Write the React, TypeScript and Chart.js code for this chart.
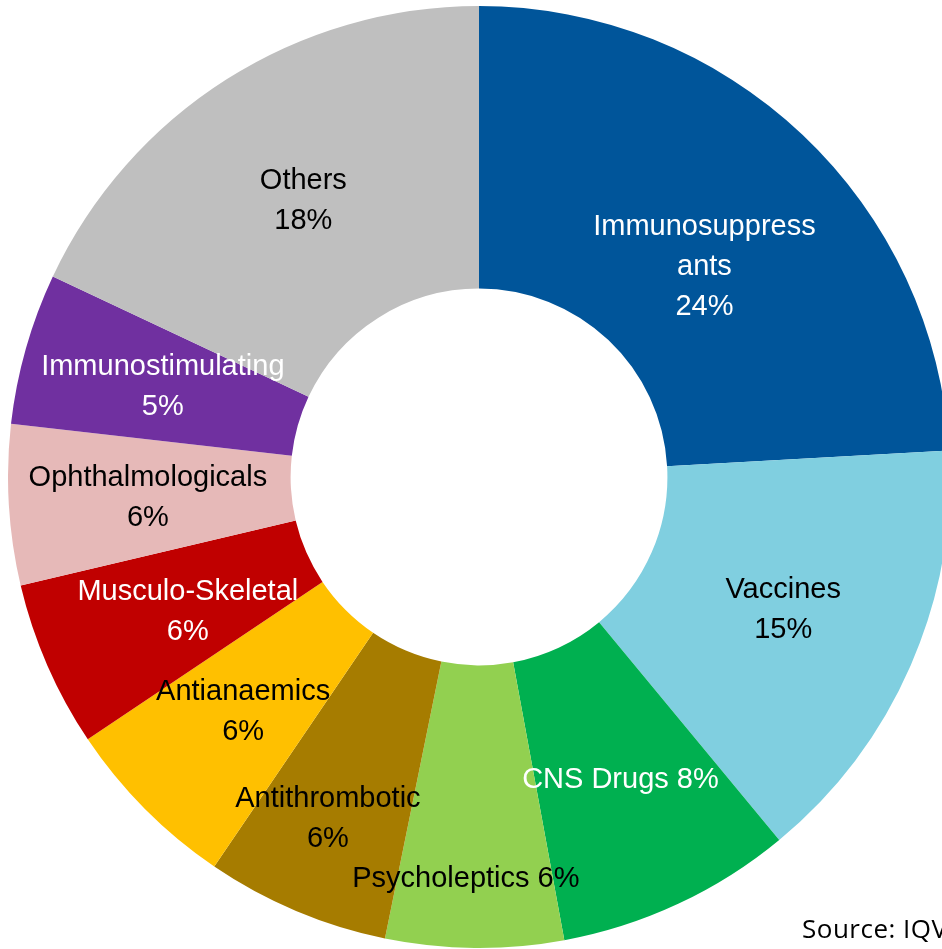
import React, { useEffect, useRef } from "react";
import { Chart, registerables } from "chart.js";

Chart.register(...registerables);

const categories = [
  "Immunosuppressants",
  "Vaccines",
  "CNS Drugs",
  "Psycholeptics",
  "Antithrombotic",
  "Antianaemics",
  "Musculo-Skeletal",
  "Ophthalmologicals",
  "Immunostimulating",
  "Others",
];
const shares = [24.1, 14.9, 8.1, 6.1, 6.3, 6.1, 5.7, 5.5, 5.2, 18.0];
const percentLabels = ["24%", "15%", "8%", "6%", "6%", "6%", "6%", "6%", "5%", "18%"];
const labelLines = [
  ["Immunosuppress", "ants", percentLabels[0]],
  ["Vaccines", percentLabels[1]],
  ["CNS Drugs " + percentLabels[2]],
  ["Psycholeptics " + percentLabels[3]],
  ["Antithrombotic", percentLabels[4]],
  ["Antianaemics", percentLabels[5]],
  ["Musculo-Skeletal", percentLabels[6]],
  ["Ophthalmologicals", percentLabels[7]],
  ["Immunostimulating", percentLabels[8]],
  ["Others", percentLabels[9]],
];
const colors = [
  "#00559A",
  "#80CFE0",
  "#00B050",
  "#92D050",
  "#A67C00",
  "#FFC000",
  "#C00000",
  "#E6B9B8",
  "#7030A0",
  "#BFBFBF",
];
const textColors = [
  "#FFFFFF",
  "#000000",
  "#FFFFFF",
  "#000000",
  "#000000",
  "#000000",
  "#FFFFFF",
  "#000000",
  "#FFFFFF",
  "#000000",
];
// label nudges (px) relative to slice centroid
const labelNudge = [
  [-1, 30],
  [2, 1],
  [2, 4],
  [-10, 72],
  [-23, 38],
  [-2, 3],
  [11, 3],
  [-2, 1],
  [1, 0],
  [1, 2],
];

const labelPlugin = {
  id: "sliceLabels",
  afterDatasetsDraw(chart: any) {
    const ctx = chart.ctx;
    const meta = chart.getDatasetMeta(0);
    ctx.save();
    ctx.font = '29px "Liberation Sans", Arial, sans-serif';
    ctx.textAlign = "center";
    ctx.textBaseline = "middle";
    meta.data.forEach((arc: any, i: number) => {
      const p = arc.tooltipPosition();
      const lines = labelLines[i];
      const lh = 40;
      const x = p.x + labelNudge[i][0];
      const y0 = p.y + labelNudge[i][1] - ((lines.length - 1) * lh) / 2;
      ctx.fillStyle = textColors[i];
      lines.forEach((t, k) => ctx.fillText(t, x, y0 + k * lh));
    });
    ctx.restore();
  },
};

export default function App() {
  const ref = useRef<HTMLCanvasElement>(null);
  useEffect(() => {
    document.body.style.overflow = "hidden";
    const chart = new Chart(ref.current!, {
      type: "doughnut",
      data: {
        labels: categories,
        datasets: [
          {
            data: shares,
            backgroundColor: colors,
            borderWidth: 0,
          },
        ],
      },
      options: {
        responsive: false,
        animation: false,
        cutout: "40%",
        layout: { padding: 0 },
        plugins: {
          legend: { display: false },
          tooltip: { enabled: false },
        },
      },
      plugins: [labelPlugin],
    });
    return () => chart.destroy();
  }, []);
  return (
    <div style={{ position: "fixed", left: 0, top: 0, width: 942, height: 949, overflow: "hidden", background: "#fff" }}>
      <canvas
        ref={ref}
        width={942}
        height={942}
        style={{ position: "absolute", left: 8, top: 6, width: 942, height: 942 }}
      />
      <div
        style={{
          position: "absolute",
          left: 802,
          top: 910,
          fontFamily: '"Open Sans", "Noto Sans", sans-serif',
          fontSize: 26,
          letterSpacing: 0.5,
          color: "#000",
          whiteSpace: "nowrap",
          lineHeight: "36px",
        }}
      >
        Source: IQVIA
      </div>
    </div>
  );
}
